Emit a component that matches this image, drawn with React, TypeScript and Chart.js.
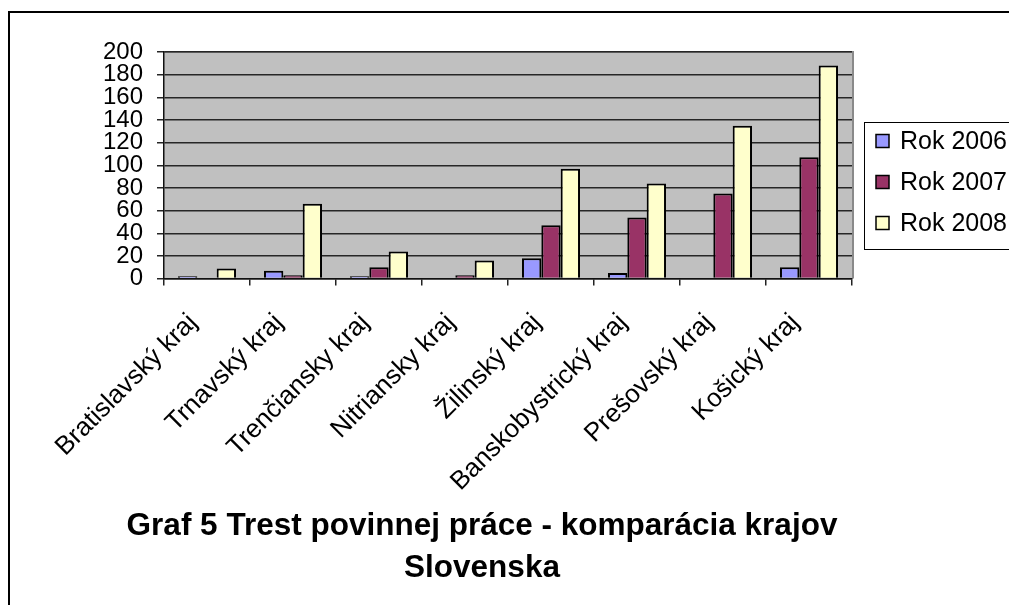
import React, { useEffect, useRef } from "react";
import { Chart, registerables } from "chart.js";

Chart.register(...registerables);

const categories = [
  "Bratislavský kraj",
  "Trnavský kraj",
  "Trenčiansky kraj",
  "Nitriansky kraj",
  "Žilinský kraj",
  "Banskobystrický kraj",
  "Prešovský kraj",
  "Košický kraj",
];
const seriesNames = ["Rok 2006", "Rok 2007", "Rok 2008"];
const values2006 = [2, 7, 2, 0, 18, 5, 0, 10];
const values2007 = [0, 3, 10, 3, 47, 54, 75, 107];
const values2008 = [9, 66, 24, 16, 97, 84, 135, 188];
const seriesColors = ["#9999FF", "#993366", "#FFFFCC"];
const titleLines = ["Graf 5 Trest povinnej práce - komparácia krajov", "Slovenska"];
const yMin = 0;
const yMax = 200;
const yStep = 20;

const FONT = "'Liberation Sans', Arial, Helvetica, sans-serif";

const plotBg = {
  id: "plotBg",
  beforeDraw(chart: any) {
    const { ctx, chartArea } = chart;
    const { left, top, right, bottom } = chartArea;
    ctx.save();
    ctx.fillStyle = "#c0c0c0";
    ctx.fillRect(left, top, right - left, bottom - top);
    ctx.strokeStyle = "#8a8a8a";
    ctx.lineWidth = 2;
    ctx.beginPath();
    ctx.moveTo(left, top);
    ctx.lineTo(right + 1, top);
    ctx.lineTo(right + 1, bottom);
    ctx.stroke();
    ctx.restore();
  },
};

const boxLegend = {
  id: "boxLegend",
  afterDraw(chart: any, _args: any, opts: any) {
    const { ctx } = chart;
    const { x, y, w, h, firstRow, rowGap, swatch, swatchX, textX, fontSize } = opts;
    ctx.save();
    ctx.fillStyle = "#ffffff";
    ctx.fillRect(x, y, w, h);
    ctx.strokeStyle = "#000";
    ctx.lineWidth = 1;
    ctx.strokeRect(x + 0.5, y + 0.5, w, h);
    ctx.font = `${fontSize}px ${FONT}`;
    ctx.textBaseline = "middle";
    ctx.textAlign = "left";
    chart.data.datasets.forEach((ds: any, i: number) => {
      const cy = firstRow + i * rowGap;
      ctx.fillStyle = ds.backgroundColor;
      ctx.fillRect(swatchX, cy - swatch / 2, swatch, swatch);
      ctx.strokeStyle = "#000";
      ctx.lineWidth = 1.5;
      ctx.strokeRect(swatchX, cy - swatch / 2, swatch, swatch);
      ctx.fillStyle = "#000";
      ctx.fillText(ds.label, textX, cy + 1);
    });
    ctx.restore();
  },
};

export default function App() {
  const ref = useRef<HTMLCanvasElement | null>(null);

  useEffect(() => {
    if (!ref.current) return;
    const seriesValues = [values2006, values2007, values2008];
    const chart = new Chart(ref.current, {
      type: "bar",
      data: {
        labels: categories,
        datasets: seriesNames.map((name, i) => ({
          label: name,
          data: seriesValues[i],
          backgroundColor: seriesColors[i],
          borderColor: "#000",
          borderWidth: 2,
          categoryPercentage: 0.675,
          barPercentage: 1,
          yAxisID: "y",
        })),
      },
      plugins: [plotBg, boxLegend],
      options: {
        animation: false,
        responsive: false,
        devicePixelRatio: 1,
        layout: {
          autoPadding: false,
          padding: { left: 0, right: 45, top: 52, bottom: 0 },
        },
        plugins: {
          legend: { display: false },
          tooltip: { enabled: false },
          title: {
            display: true,
            position: "bottom",
            text: titleLines,
            color: "#000",
            font: { family: FONT, size: 31.5, weight: "bold", lineHeight: 1.34 },
            padding: { top: 10, bottom: 15.5 },
          },
          boxLegend: {
            x: 864,
            y: 122,
            w: 160,
            h: 127,
            firstRow: 141,
            rowGap: 41,
            swatch: 13,
            swatchX: 876,
            textX: 900,
            fontSize: 25,
          },
        } as any,
        scales: {
          x: {
            offset: true,
            grid: {
              offset: true,
              drawOnChartArea: false,
              drawTicks: true,
              tickLength: 7,
              color: "#222",
              lineWidth: 1.5,
            },
            border: { display: true, color: "#111", width: 1.5 },
            ticks: {
              autoSkip: false,
              minRotation: 45,
              maxRotation: 45,
              padding: 22,
              labelOffset: -14,
              color: "#000",
              font: { family: FONT, size: 26 },
            },
            afterFit(scale: any) {
              scale.height = 216.5;
              scale.paddingLeft = 0;
              scale.paddingRight = 0;
            },
          },
          y: {
            position: "left",
            min: yMin,
            max: yMax,
            grid: {
              color: "#262626",
              lineWidth: 1.5,
              tickLength: 7,
              drawTicks: true,
            },
            border: { display: true, color: "#111", width: 1.5 },
            ticks: {
              stepSize: yStep,
              autoSkip: false,
              padding: 14,
              color: "#000",
              font: { family: FONT, size: 24 },
            },
            afterFit(scale: any) {
              scale.width = 164;
              scale.paddingTop = 0;
              scale.paddingBottom = 0;
            },
          },
          legendSpace: {
            type: "linear",
            position: "right",
            display: true,
            grid: { display: false, drawTicks: false },
            border: { display: false },
            ticks: { display: false },
            afterFit(scale: any) {
              scale.width = 112;
              scale.paddingTop = 0;
              scale.paddingBottom = 0;
            },
          },
        },
      } as any,
    });
    return () => chart.destroy();
  }, []);

  return (
    <div style={{ position: "fixed", left: 0, top: 0, width: 1009, height: 605, background: "#fff", overflow: "hidden" }}>
      <div
        style={{
          position: "absolute",
          left: 8,
          top: 11,
          width: 1100,
          height: 700,
          borderLeft: "2px solid #000",
          borderTop: "2px solid #000",
        }}
      />
      <canvas
        ref={ref}
        width={1009}
        height={605}
        style={{ position: "absolute", left: 0, top: 0, width: 1009, height: 605 }}
      />
    </div>
  );
}
